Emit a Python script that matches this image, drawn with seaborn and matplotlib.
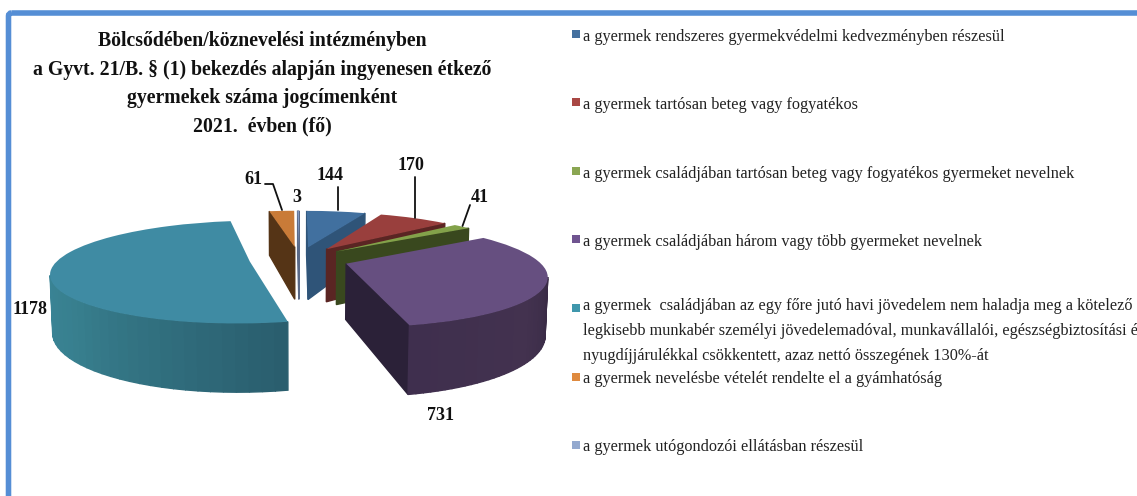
# Exploded 3D pie: free meals by legal ground, 2021

import numpy as np
import matplotlib
matplotlib.use('Agg')
import matplotlib.pyplot as plt
from matplotlib.patches import FancyBboxPatch
from matplotlib.transforms import Transform
import seaborn as sns

# Data
categories = [
    'a gyermek rendszeres gyermekvédelmi kedvezményben részesül',
    'a gyermek tartósan beteg vagy fogyatékos',
    'a gyermek családjában tartósan beteg vagy fogyatékos gyermeket nevelnek',
    'a gyermek családjában három vagy több gyermeket nevelnek',
    'a gyermek  családjában az egy főre jutó havi jövedelem nem haladja meg a kötelező\n'
    'legkisebb munkabér személyi jövedelemadóval, munkavállalói, egészségbiztosítási é\n'
    'nyugdíjjárulékkal csökkentett, azaz nettó összegének 130%-át',
    'a gyermek nevelésbe vételét rendelte el a gyámhatóság',
    'a gyermek utógondozói ellátásban részesül',
]
values = [144, 170, 41, 731, 1178, 61, 3]
title_lines = [
    'Bölcsődében/köznevelési intézményben',
    'a Gyvt. 21/B. § (1) bekezdés alapján ingyenesen étkező',
    'gyermekek száma jogcímenként',
    '2021.  évben (fő)',
]

# Colours
top_colors = ['#41709f', '#993f3d', '#83a24a', '#664f80', '#3f8ba3', '#c97b38', '#8aa2cc']
legend_colors = ['#44709f', '#a94744', '#8aa652', '#6f5490', '#3f97ac', '#df8a3f', '#93a9cf']
face_colors = ['#2f5478', '#5a2523', '#39481e', '#2b2138', '#2a5e6e', '#553416', '#5a6a88']
wall_colors = [
    ['#2f5478', '#355c84'],
    ['#5a2523', '#6a2e2b'],
    ['#39481e', '#45571f'],
    ['#3f2f4e', '#43324f', '#352842', '#2b2138'],
    ['#3d8aa0', '#3d8aa0', '#38808f', '#2a5e6e'],
    ['#553416', '#553416'],
    ['#5a6a88', '#5a6a88'],
]

sns.set_theme(style='white')
plt.rcParams['font.family'] = ['Liberation Serif', 'DejaVu Sans']

# Perspective of the pie plane, in picture pixels
CX, CY, RX, RY = 299, 259, 191, 48.2
TILT, SINK, DEPTH = 0.205, 0.01, 55.3


def project(x, y, z=0.0):
    w = 1 + TILT * y + SINK * z
    return CX + RX * x / w, CY + (-RY * y + DEPTH * z) / w


class PiePlane(Transform):
    input_dims = 2
    output_dims = 2

    def transform_non_affine(self, values):
        px, py = project(values[:, 0], values[:, 1])
        return np.column_stack([px, py])


def draw_side(ax, a, b, color, zorder):
    # a, b go round the slice counterclockwise; back faces come out negative
    xs = [project(*a)[0], project(*b)[0], project(*b, 1)[0], project(*a, 1)[0]]
    ys = [project(*a)[1], project(*b)[1], project(*b, 1)[1], project(*a, 1)[1]]
    area = sum(xs[i] * ys[(i + 1) % 4] - xs[(i + 1) % 4] * ys[i] for i in range(4))
    if area > 0:
        ax.fill(xs, ys, color=color, lw=1, zorder=zorder)


fig = plt.figure(figsize=(11.37, 4.96), dpi=100, facecolor='white')
ax = fig.add_axes([0, 0, 1, 1])

wedges, _ = ax.pie(values, explode=[0.26] * len(values), startangle=90, counterclock=False,
                   colors=top_colors, wedgeprops={'linewidth': 0})
ax.set_aspect('auto')
ax.set_xlim(0, 1137)
ax.set_ylim(496, 0)
ax.axis('off')

# Back to front on each side of the picture
draw_order = [5, 6, 0, 1, 2, 4, 3]
plane = PiePlane()
for rank, i in enumerate(draw_order):
    wedge = wedges[i]
    zorder = 2 + rank
    cx, cy = wedge.center
    thetas = np.radians(np.linspace(wedge.theta1, wedge.theta2, 60))
    rim = [(cx + np.cos(t), cy + np.sin(t)) for t in thetas]
    shades = sns.blend_palette(wall_colors[i], len(rim) - 1)
    draw_side(ax, (cx, cy), rim[0], face_colors[i], zorder)
    draw_side(ax, rim[-1], (cx, cy), face_colors[i], zorder)
    for j in range(len(rim) - 1):
        draw_side(ax, rim[j], rim[j + 1], shades[j], zorder)
    wedge.set_transform(plane + ax.transData)
    wedge.set_clip_on(False)
    wedge.set_zorder(zorder + 0.5)

# Frame
ax.add_patch(FancyBboxPatch((8.5, 13), 1300, 700, boxstyle='round,pad=0,rounding_size=3',
                            fc='none', ec='#558ed5', lw=4, zorder=1))

# Title
for line, y in zip(title_lines, [41, 70, 98, 126]):
    ax.text(262, y, line, ha='center', va='center', fontsize=14.2, fontweight='bold', color='#111111')

# Slice labels and leader lines
labels = [(330, 176), (411, 166), (480, 198), (440, 415), (30, 309), (253, 179), (297, 197)]
for value, (x, y) in zip(values, labels):
    ax.text(x, y, str(value), ha='center', va='center', fontsize=13, fontweight='bold',
            color='#111111', zorder=20)
leaders = [
    ([337.5, 337.5], [187, 210]),
    ([415, 415], [177, 218]),
    ([470, 462.5], [205, 226]),
    ([265, 273, 282], [184, 184, 210]),
]
for xs, ys in leaders:
    ax.plot(xs, ys, color='#111111', lw=1.3, zorder=20)

# Legend
legend_y = [34, 102, 171, 239, 308, 377, 445]
text_y = [37, 105, 174, 242, 331, 379, 447]
for name, color, y, ty in zip(categories, legend_colors, legend_y, text_y):
    ax.scatter([576], [y], marker='s', s=36, color=color, linewidths=0, zorder=20)
    ax.text(583, ty, name, ha='left', va='center', fontsize=11.7,
            color='#222222', linespacing=1.72)

fig.savefig('out.png', dpi=100)
